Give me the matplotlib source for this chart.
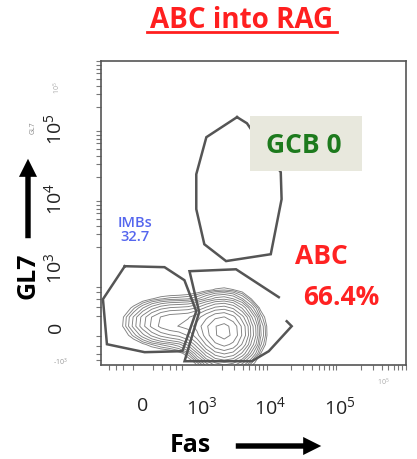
import numpy as np
import matplotlib.pyplot as plt
from matplotlib.patches import Rectangle, FancyArrowPatch
from matplotlib.lines import Line2D

plt.rcParams['font.family'] = ['Open Sans', 'DejaVu Sans']
plt.rcParams['mathtext.default'] = 'regular'

C = 293.0  # width of the linear region of the arcsinh display


def fwd(v):
    return np.arcsinh(np.asarray(v) / C)


def inv(u):
    return C * np.sinh(np.asarray(u))


# gates (Fas, GL7)
gcb_gate_x = [3330, 4630, 14200, 14600, 10200, 2310, 1110, 840, 840, 1190, 3330]
gcb_gate_y = [142000, 116000, 23200, 9550, 1550, 1230, 2160, 6880, 21700, 73400, 142000]
imb_gate_x = [-184, 231, 547, 840, 507, 19, -434, -507, -184]
imb_gate_y = [1034, 1000, 633, 150, -269, -282, -184, 296, 1034]
abc_gate_x = [17300, 20400, 9550, 5460, 550, 930, 660, 3220, 13300]
abc_gate_y = [48, 0, -269, -417, -417, 140, 870, 930, 324]

# event density (rows = GL7, columns = Fas)
dens_fas = [-442, -301, -187, -89, 0, 89, 187, 301, 442, 624, 862, 1178, 1602,
            2170, 2935, 3967, 5358, 7234, 9767, 13186, 17800]
dens_gl7 = [-624, -442, -301, -187, -89, 0, 89, 187, 301, 442, 624, 862]
density = [
    [0, 0, 0, 0, 0, 0, 0, 3, 8, 21, 46, 83, 119, 135, 122, 87, 49, 22, 8, 0, 0],
    [0, 0, 0, 3, 5, 7, 9, 13, 24, 51, 107, 190, 270, 307, 277, 198, 112, 50, 18, 5, 0],
    [0, 5, 10, 16, 25, 33, 41, 50, 69, 116, 214, 359, 502, 566, 509, 363, 205, 92, 32, 9, 0],
    [8, 17, 32, 53, 80, 108, 131, 150, 175, 235, 364, 563, 762, 848, 758, 539, 304, 136, 48, 13, 3],
    [17, 37, 69, 115, 173, 233, 283, 315, 339, 393, 522, 733, 947, 1033, 915, 648, 365, 163, 58, 16, 4],
    [25, 53, 99, 166, 250, 336, 407, 448, 466, 499, 596, 771, 954, 1019, 894, 630, 354, 158, 56, 16, 3],
    [24, 51, 95, 159, 240, 323, 390, 428, 439, 454, 515, 636, 765, 807, 703, 494, 277, 124, 44, 12, 3],
    [15, 32, 61, 102, 153, 206, 249, 273, 280, 289, 327, 402, 483, 509, 443, 312, 175, 78, 28, 8, 0],
    [7, 14, 26, 43, 65, 88, 106, 117, 121, 129, 152, 195, 240, 256, 224, 158, 89, 40, 14, 4, 0],
    [0, 4, 7, 12, 18, 25, 30, 33, 36, 41, 53, 74, 95, 103, 91, 65, 36, 16, 6, 0, 0],
    [0, 0, 0, 0, 3, 5, 6, 6, 7, 10, 15, 23, 30, 34, 30, 21, 12, 5, 0, 0, 0],
    [0, 0, 0, 0, 0, 0, 0, 0, 0, 0, 3, 6, 8, 9, 8, 6, 3, 0, 0, 0, 0],
]

tick_vals = [0, 1e3, 1e4, 1e5]
tick_labels = ['0', '10$^3$', '10$^4$', '10$^5$']

fig = plt.figure(figsize=(4.17, 4.60), dpi=100)
ax = fig.add_axes([101 / 417, 1 - 366 / 460, 305 / 417, 304 / 460])
ax.set_xscale('function', functions=(fwd, inv))
ax.set_yscale('function', functions=(fwd, inv))

ax.contour(dens_fas, dens_gl7, np.array(density), levels=np.geomspace(90, 960, 14),
           colors='#808080', linewidths=0.65)

gate_kw = dict(color='#555555', lw=1.8, solid_joinstyle='miter')
ax.plot(gcb_gate_x, gcb_gate_y, **gate_kw)
ax.plot(imb_gate_x, imb_gate_y, **gate_kw)
ax.plot(abc_gate_x, abc_gate_y, **gate_kw)

ax.set_xlim(-546, 836000)
ax.set_ylim(-484, 897000)

ax.set_xticks(tick_vals, tick_labels)
ax.set_yticks(tick_vals, tick_labels, rotation=90, va='center')
ax.tick_params(which='major', length=0, labelsize=14, labelcolor='#222222')
ax.tick_params(axis='x', which='major', pad=22)
ax.tick_params(axis='y', which='major', pad=26)
minor = [-400, -300, -200, -100, 100, 200, 300, 400, 500]
for d in [1e3, 1e4, 1e5]:
    minor += [k * d for k in range(1, 10)]
ax.set_xticks(minor, minor=True)
ax.set_yticks(minor, minor=True)
ax.tick_params(which='minor', length=3.5, width=0.8, color='#777777')
for s in ax.spines.values():
    s.set_color('#555555')
    s.set_linewidth(1.2)

# GCB label box
ax.add_patch(Rectangle((0.4885, 0.638), 0.367, 0.181, transform=ax.transAxes,
                       facecolor='#e8e8dd', edgecolor='none', zorder=5))
ax.text(0.666, 0.726, 'GCB 0', transform=ax.transAxes, ha='center', va='center',
        color='#1d7a1d', fontsize=19, fontweight='bold', zorder=6)
ax.text(0.111, 0.448, 'IMBs\n32.7', transform=ax.transAxes, ha='center', va='center',
        color='#5566ee', fontsize=10.5, fontweight='semibold', linespacing=1.05)
ax.text(0.636, 0.3586, 'ABC', transform=ax.transAxes, ha='left', va='center',
        color='#ff2222', fontsize=19, fontweight='bold')
ax.text(0.662, 0.224, '66.4%', transform=ax.transAxes, ha='left', va='center',
        color='#ff2222', fontsize=19, fontweight='bold')

# small instrument labels
fig.text(57 / 417, 1 - 88 / 460, '10$^5$', rotation=90, ha='center', va='center',
         fontsize=5, color='#aaaaaa')
fig.text(60 / 417, 1 - 362 / 460, '-10$^3$', ha='center', va='center',
         fontsize=5, color='#999999')
fig.text(383 / 417, 1 - 382 / 460, '10$^5$', ha='center', va='center',
         fontsize=5, color='#aaaaaa')
fig.text(33 / 417, 1 - 128 / 460, 'GL7', rotation=90, ha='center', va='center',
         fontsize=5, color='#888888')

# title with underline
fig.text(242 / 417, 1 - 21 / 460, 'ABC into RAG', ha='center', va='center',
         color='#ff1f1f', fontsize=20, fontweight='bold')
fig.add_artist(Line2D([147 / 417, 337 / 417], [1 - 33 / 460] * 2, color='#ff1f1f', lw=2))

# axis names with arrows
fig.text(28 / 417, 1 - 276 / 460, 'GL7', rotation=90, ha='center', va='center',
         fontsize=18, fontweight='bold', color='black')
fig.text(190 / 417, 1 - 446 / 460, 'Fas', ha='center', va='center',
         fontsize=18, fontweight='bold', color='black')
arrow_kw = dict(transform=fig.transFigure,
                arrowstyle='simple,head_length=1.0,head_width=1.0,tail_width=0.3',
                mutation_scale=13, color='black', lw=0)
fig.add_artist(FancyArrowPatch((28 / 417, 1 - 242 / 460), (28 / 417, 1 - 157 / 460), **arrow_kw))
fig.add_artist(FancyArrowPatch((233 / 417, 1 - 447 / 460), (324 / 417, 1 - 447 / 460), **arrow_kw))

fig.savefig('out.png', dpi=100, facecolor='white')
